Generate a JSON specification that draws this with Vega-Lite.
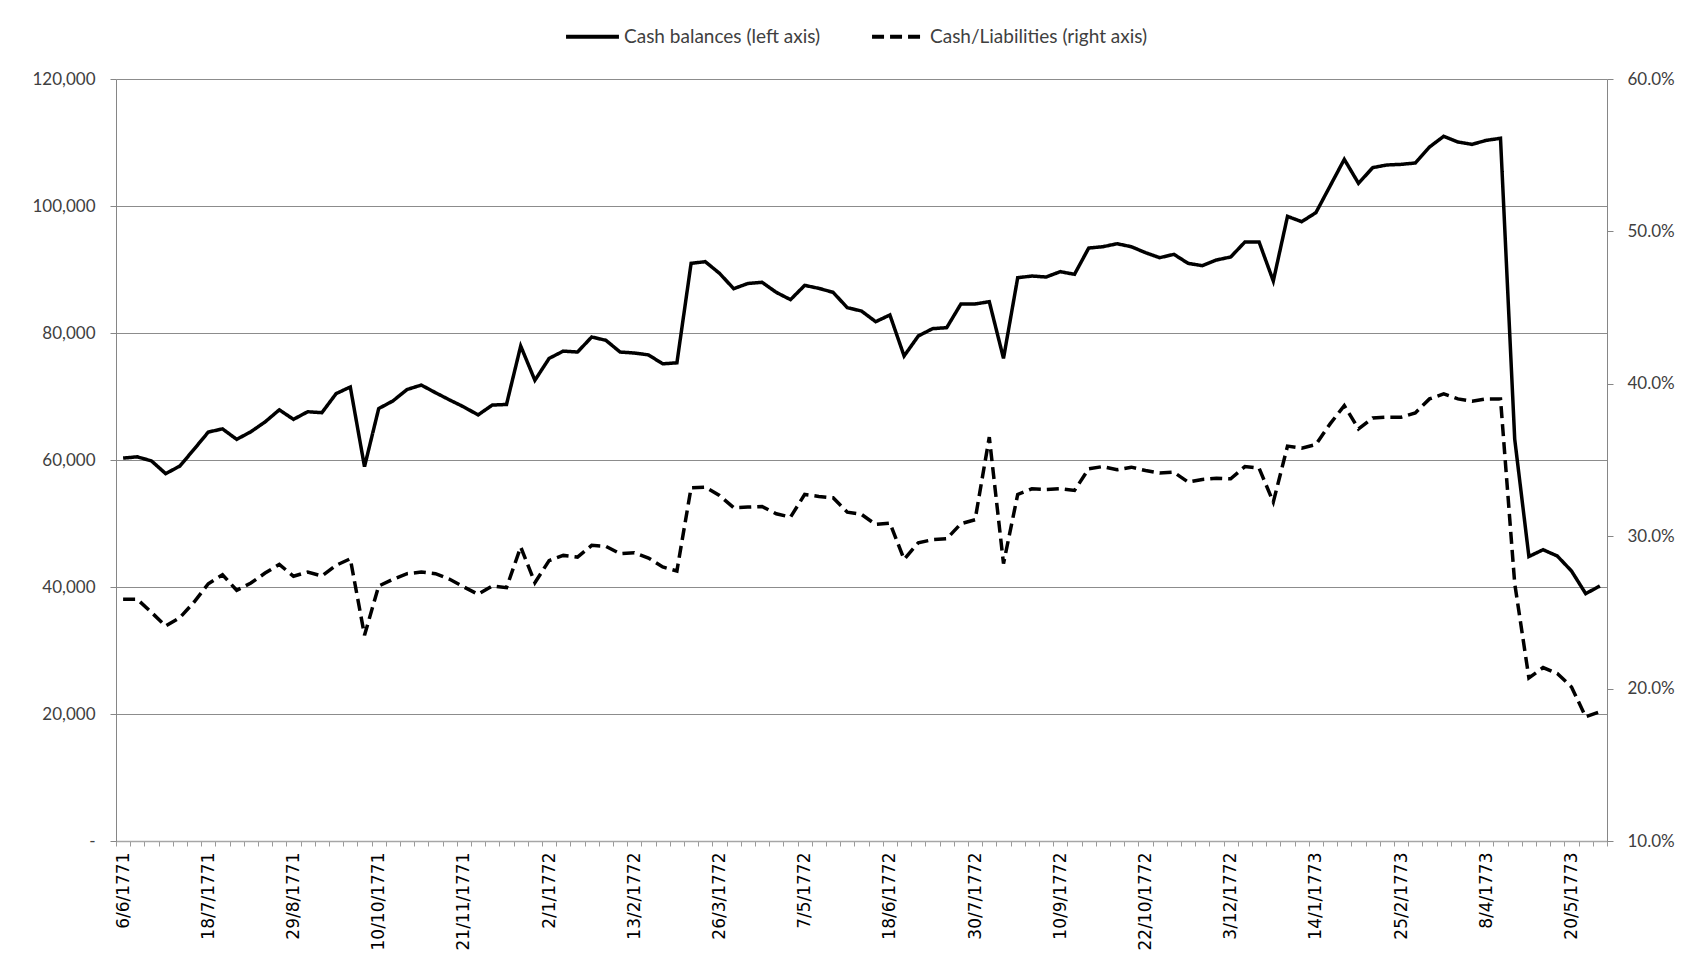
{
  "$schema": "https://vega.github.io/schema/vega-lite/v6.json",
  "width": 1491,
  "height": 762,
  "autosize": {"type": "none"},
  "padding": {"left": 116, "top": 79, "right": 86, "bottom": 125},
  "background": "white",
  "config": {"view": {"stroke": null}, "font": "Lato"},
  "data": {"values": [
    {"date": "6/6/1771", "cash": 60300, "ratio": 0.2586},
    {"date": "13/6/1771", "cash": 60500, "ratio": 0.2586},
    {"date": "20/6/1771", "cash": 59850, "ratio": 0.2500},
    {"date": "27/6/1771", "cash": 57850, "ratio": 0.2411},
    {"date": "4/7/1771", "cash": 59050, "ratio": 0.2466},
    {"date": "11/7/1771", "cash": 61700, "ratio": 0.2568},
    {"date": "18/7/1771", "cash": 64400, "ratio": 0.2688},
    {"date": "25/7/1771", "cash": 64900, "ratio": 0.2747},
    {"date": "1/8/1771", "cash": 63250, "ratio": 0.2645},
    {"date": "8/8/1771", "cash": 64450, "ratio": 0.2693},
    {"date": "15/8/1771", "cash": 66000, "ratio": 0.2758},
    {"date": "22/8/1771", "cash": 67900, "ratio": 0.2815},
    {"date": "29/8/1771", "cash": 66400, "ratio": 0.2737},
    {"date": "5/9/1771", "cash": 67600, "ratio": 0.2765},
    {"date": "12/9/1771", "cash": 67450, "ratio": 0.2739},
    {"date": "19/9/1771", "cash": 70450, "ratio": 0.2809},
    {"date": "26/9/1771", "cash": 71500, "ratio": 0.2852},
    {"date": "3/10/1771", "cash": 58950, "ratio": 0.2350},
    {"date": "10/10/1771", "cash": 68100, "ratio": 0.2673},
    {"date": "17/10/1771", "cash": 69300, "ratio": 0.2717},
    {"date": "24/10/1771", "cash": 71100, "ratio": 0.2754},
    {"date": "31/10/1771", "cash": 71800, "ratio": 0.2765},
    {"date": "7/11/1771", "cash": 70600, "ratio": 0.2754},
    {"date": "14/11/1771", "cash": 69450, "ratio": 0.2717},
    {"date": "21/11/1771", "cash": 68350, "ratio": 0.2667},
    {"date": "28/11/1771", "cash": 67100, "ratio": 0.2619},
    {"date": "5/12/1771", "cash": 68650, "ratio": 0.2673},
    {"date": "12/12/1771", "cash": 68750, "ratio": 0.2662},
    {"date": "19/12/1771", "cash": 77950, "ratio": 0.2929},
    {"date": "26/12/1771", "cash": 72550, "ratio": 0.2695},
    {"date": "2/1/1772", "cash": 76000, "ratio": 0.2840},
    {"date": "9/1/1772", "cash": 77150, "ratio": 0.2874},
    {"date": "16/1/1772", "cash": 77000, "ratio": 0.2863},
    {"date": "23/1/1772", "cash": 79370, "ratio": 0.2940},
    {"date": "30/1/1772", "cash": 78850, "ratio": 0.2933},
    {"date": "6/2/1772", "cash": 77000, "ratio": 0.2885},
    {"date": "13/2/1772", "cash": 76850, "ratio": 0.2892},
    {"date": "20/2/1772", "cash": 76550, "ratio": 0.2857},
    {"date": "27/2/1772", "cash": 75150, "ratio": 0.2798},
    {"date": "5/3/1772", "cash": 75300, "ratio": 0.2772},
    {"date": "12/3/1772", "cash": 90970, "ratio": 0.3318},
    {"date": "19/3/1772", "cash": 91230, "ratio": 0.3322},
    {"date": "26/3/1772", "cash": 89400, "ratio": 0.3267},
    {"date": "2/4/1772", "cash": 86980, "ratio": 0.3187},
    {"date": "9/4/1772", "cash": 87800, "ratio": 0.3191},
    {"date": "16/4/1772", "cash": 87980, "ratio": 0.3195},
    {"date": "23/4/1772", "cash": 86400, "ratio": 0.3147},
    {"date": "30/4/1772", "cash": 85250, "ratio": 0.3125},
    {"date": "7/5/1772", "cash": 87500, "ratio": 0.3274},
    {"date": "14/5/1772", "cash": 87030, "ratio": 0.3261},
    {"date": "21/5/1772", "cash": 86400, "ratio": 0.3252},
    {"date": "28/5/1772", "cash": 83990, "ratio": 0.3158},
    {"date": "4/6/1772", "cash": 83460, "ratio": 0.3143},
    {"date": "11/6/1772", "cash": 81780, "ratio": 0.3077},
    {"date": "18/6/1772", "cash": 82840, "ratio": 0.3086},
    {"date": "25/6/1772", "cash": 76380, "ratio": 0.2848},
    {"date": "2/7/1772", "cash": 79530, "ratio": 0.2957},
    {"date": "9/7/1772", "cash": 80680, "ratio": 0.2977},
    {"date": "16/7/1772", "cash": 80840, "ratio": 0.2983},
    {"date": "23/7/1772", "cash": 84570, "ratio": 0.3082},
    {"date": "30/7/1772", "cash": 84570, "ratio": 0.3108},
    {"date": "6/8/1772", "cash": 84930, "ratio": 0.3650},
    {"date": "13/8/1772", "cash": 76010, "ratio": 0.2820},
    {"date": "20/8/1772", "cash": 88710, "ratio": 0.3274},
    {"date": "27/8/1772", "cash": 88970, "ratio": 0.3311},
    {"date": "3/9/1772", "cash": 88820, "ratio": 0.3307},
    {"date": "10/9/1772", "cash": 89660, "ratio": 0.3311},
    {"date": "17/9/1772", "cash": 89240, "ratio": 0.3300},
    {"date": "24/9/1772", "cash": 93380, "ratio": 0.3442},
    {"date": "1/10/1772", "cash": 93590, "ratio": 0.3457},
    {"date": "8/10/1772", "cash": 94060, "ratio": 0.3436},
    {"date": "15/10/1772", "cash": 93590, "ratio": 0.3453},
    {"date": "22/10/1772", "cash": 92650, "ratio": 0.3431},
    {"date": "29/10/1772", "cash": 91860, "ratio": 0.3414},
    {"date": "5/11/1772", "cash": 92390, "ratio": 0.3420},
    {"date": "12/11/1772", "cash": 90970, "ratio": 0.3355},
    {"date": "19/11/1772", "cash": 90600, "ratio": 0.3372},
    {"date": "26/11/1772", "cash": 91500, "ratio": 0.3381},
    {"date": "3/12/1772", "cash": 91970, "ratio": 0.3377},
    {"date": "10/12/1772", "cash": 94330, "ratio": 0.3457},
    {"date": "17/12/1772", "cash": 94330, "ratio": 0.3446},
    {"date": "24/12/1772", "cash": 88190, "ratio": 0.3224},
    {"date": "31/12/1772", "cash": 98370, "ratio": 0.3591},
    {"date": "7/1/1773", "cash": 97530, "ratio": 0.3578},
    {"date": "14/1/1773", "cash": 98950, "ratio": 0.3602},
    {"date": "21/1/1773", "cash": 103150, "ratio": 0.3737},
    {"date": "28/1/1773", "cash": 107350, "ratio": 0.3857},
    {"date": "4/2/1773", "cash": 103570, "ratio": 0.3704},
    {"date": "11/2/1773", "cash": 106040, "ratio": 0.3776},
    {"date": "18/2/1773", "cash": 106460, "ratio": 0.3781},
    {"date": "25/2/1773", "cash": 106560, "ratio": 0.3781},
    {"date": "4/3/1773", "cash": 106770, "ratio": 0.3809},
    {"date": "11/3/1773", "cash": 109290, "ratio": 0.3901},
    {"date": "18/3/1773", "cash": 110970, "ratio": 0.3934},
    {"date": "25/3/1773", "cash": 110080, "ratio": 0.3901},
    {"date": "1/4/1773", "cash": 109710, "ratio": 0.3886},
    {"date": "8/4/1773", "cash": 110340, "ratio": 0.3901},
    {"date": "15/4/1773", "cash": 110660, "ratio": 0.3901},
    {"date": "22/4/1773", "cash": 63300, "ratio": 0.2690},
    {"date": "29/4/1773", "cash": 44800, "ratio": 0.2070},
    {"date": "6/5/1773", "cash": 45870, "ratio": 0.2138},
    {"date": "13/5/1773", "cash": 44880, "ratio": 0.2099},
    {"date": "20/5/1773", "cash": 42520, "ratio": 0.2011},
    {"date": "27/5/1773", "cash": 38950, "ratio": 0.1815},
    {"date": "3/6/1773", "cash": 40160, "ratio": 0.1848}
  ]},
  "encoding": {
    "x": {
      "field": "date",
      "type": "ordinal",
      "sort": null,
      "bandPosition": 0.5,
      "scale": {"type": "band", "paddingInner": 0, "paddingOuter": 0},
      "axis": {
        "title": null,
        "labelAngle": -90,
        "labelAlign": "right",
        "labelBaseline": "middle",
        "labelFont": "DejaVu Sans",
        "labelFontSize": 17,
        "labelColor": "#000000",
        "labelOverlap": false,
        "labelBound": false,
        "labelPadding": 6,
        "labelExpr": "indexof(['6/6/1771','18/7/1771','29/8/1771','10/10/1771','21/11/1771','2/1/1772','13/2/1772','26/3/1772','7/5/1772','18/6/1772','30/7/1772','10/9/1772','22/10/1772','3/12/1772','14/1/1773','25/2/1773','8/4/1773','20/5/1773'], datum.value) >= 0 ? datum.value : ''",
        "tickBand": "extent",
        "tickSize": 5,
        "tickColor": "#9a9a9a",
        "domainColor": "#a6a6a6",
        "domainWidth": 1.5,
        "grid": false
      }
    }
  },
  "layer": [
    {
      "mark": {"type": "line", "color": "#000000", "strokeWidth": 3.5, "strokeJoin": "miter"},
      "encoding": {
        "y": {
          "field": "cash",
          "type": "quantitative",
          "scale": {"domain": [0, 120000], "nice": false, "zero": false},
          "axis": {
            "title": null,
            "values": [0, 20000, 40000, 60000, 80000, 100000, 120000],
            "labelExpr": "datum.value == 0 ? '-\u00a0\u00a0\u00a0' : format(datum.value, ',')",
            "labelFont": "Lato",
            "labelFontSize": 17,
            "labelColor": "#404040",
            "labelPadding": 15,
            "tickSize": 6,
            "tickColor": "#868686",
            "domainColor": "#868686",
            "grid": true,
            "gridColor": "#8c8c8c",
            "gridWidth": 1
          }
        },
        "strokeDash": {
          "datum": "Cash balances (left axis)",
          "type": "nominal",
          "scale": {"domain": ["Cash balances (left axis)", "Cash/Liabilities (right axis)"], "range": [[1, 0], [12, 6]]},
          "legend": {
            "orient": "none",
            "legendX": 448,
            "legendY": -71,
            "direction": "horizontal",
            "title": null,
            "symbolType": "stroke",
            "symbolSize": 2800,
            "symbolStrokeWidth": 4,
            "symbolStrokeColor": "#000000",
            "labelFont": "Lato",
            "labelFontSize": 19,
            "labelLimit": 0,
            "labelColor": "#404040",
            "labelOffset": 3,
            "columnPadding": 43
          }
        }
      }
    },
    {
      "mark": {"type": "line", "color": "#000000", "strokeWidth": 3.5, "strokeJoin": "miter"},
      "encoding": {
        "y": {
          "field": "ratio",
          "type": "quantitative",
          "scale": {"domain": [0.1, 0.6], "nice": false, "zero": false},
          "axis": {
            "orient": "right",
            "title": null,
            "values": [0.1, 0.2, 0.3, 0.4, 0.5, 0.6],
            "format": ".1%",
            "labelFont": "Lato",
            "labelFontSize": 17,
            "labelColor": "#404040",
            "labelPadding": 14,
            "tickSize": 6,
            "tickColor": "#868686",
            "domainColor": "#868686",
            "grid": false
          }
        },
        "strokeDash": {"datum": "Cash/Liabilities (right axis)", "type": "nominal"}
      }
    }
  ],
  "resolve": {"scale": {"y": "independent"}}
}
